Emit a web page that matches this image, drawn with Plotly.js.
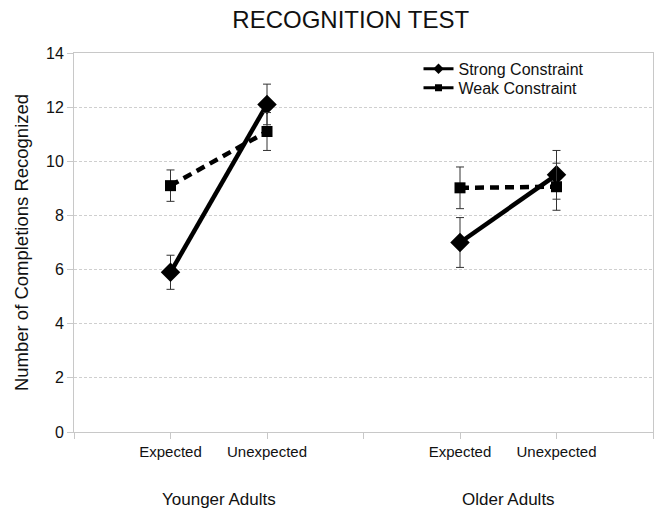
<!DOCTYPE html>
<html>
<head>
<meta charset="utf-8">
<script src="https://cdn.plot.ly/plotly-3.0.1.min.js"></script>
<style>html,body{margin:0;padding:0;background:#fff;}#chart{width:664px;height:520px;}</style>
</head>
<body>
<div id="chart"></div>
<script>
// Data
const groups = ['Younger Adults', 'Older Adults'];
const conditions = ['Expected', 'Unexpected'];
const seriesNames = ['Strong Constraint', 'Weak Constraint'];
// values in order: Younger-Expected, Younger-Unexpected, Older-Expected, Older-Unexpected
const strongValues = [5.9, 12.1, 7.0, 9.5];
const strongErrors = [0.63, 0.75, 0.92, 0.9];
const weakValues = [9.1, 11.1, 9.02, 9.06];
const weakErrors = [0.58, 0.7, 0.77, 0.87];
const yTicks = [0, 2, 4, 6, 8, 10, 12, 14];

// category slot positions: each group spans 3 slots (gap, cond1, cond2)
function positions() {
  const xs = [];
  groups.forEach((g, gi) => {
    conditions.forEach((c, ci) => xs.push(gi * 3 + ci + 1));
  });
  return xs;
}
// insert gaps between groups so lines do not connect across groups
function withGaps(arr) {
  const out = [];
  groups.forEach((g, gi) => {
    if (gi > 0) out.push(null);
    conditions.forEach((c, ci) => out.push(arr[gi * conditions.length + ci]));
  });
  return out;
}
const xPos = positions();
const tickvals = [];
const ticktext = [];
for (let i = 0; i <= groups.length * 3; i++) {
  tickvals.push(i);
  const gi = Math.floor(i / 3), r = i % 3;
  ticktext.push(r === 0 || gi >= groups.length ? '' : conditions[r - 1]);
}

const FONT = '"Liberation Sans", Arial, sans-serif';

const traces = [
  {
    name: seriesNames[0], showlegend: false,
    type: 'scatter', mode: 'lines+markers',
    x: withGaps(xPos), y: withGaps(strongValues),
    line: {color: '#000', width: 4.5, dash: 'solid'},
    marker: {symbol: 'diamond', size: 15, color: '#000'},
    error_y: {type: 'data', array: withGaps(strongErrors), visible: true, color: '#333', thickness: 1, width: 4},
    connectgaps: false
  },
  {
    name: seriesNames[1], showlegend: false,
    type: 'scatter', mode: 'lines+markers',
    x: withGaps(xPos), y: withGaps(weakValues),
    line: {color: '#000', width: 4.5, dash: '9px,6px'},
    marker: {symbol: 'square', size: 11, color: '#000'},
    error_y: {type: 'data', array: withGaps(weakErrors), visible: true, color: '#333', thickness: 1, width: 4},
    connectgaps: false
  },
  // legend entries (small symbols, as in the reference legend)
  {
    name: seriesNames[0], showlegend: true, legend: 'legend', type: 'scatter', mode: 'lines+markers',
    x: [null], y: [null],
    line: {color: '#000', width: 3}, marker: {symbol: 'diamond', size: 8, color: '#000'}
  },
  {
    name: seriesNames[1], showlegend: true, legend: 'legend2', type: 'scatter', mode: 'lines+markers',
    x: [null], y: [null],
    line: {color: '#000', width: 3}, marker: {symbol: 'square', size: 7, color: '#000'}
  }
];

const annotations = groups.map((g, gi) => ({
  text: g, xref: 'x', yref: 'paper',
  x: gi * 3 + 1.5, y: -0.179, yanchor: 'middle', xanchor: 'center',
  showarrow: false, font: {family: FONT, size: 17, color: '#111'}
}));

const legendBase = {
  x: 0.595, xanchor: 'left', yanchor: 'middle',
  bgcolor: 'rgba(0,0,0,0)', font: {family: FONT, size: 16, color: '#111'},
  itemwidth: 30
};

const layout = {
  width: 664, height: 520,
  margin: {l: 74, r: 11, t: 53, b: 88},
  paper_bgcolor: '#fff', plot_bgcolor: '#fff',
  font: {family: FONT, color: '#111'},
  title: {text: 'RECOGNITION TEST', font: {family: FONT, size: 24, color: '#111'},
          x: 0.478, xref: 'paper', xanchor: 'center', y: 0.963, yanchor: 'middle'},
  showlegend: true,
  legend: Object.assign({}, legendBase, {y: 0.958}),
  legend2: Object.assign({}, legendBase, {y: 0.908}),
  xaxis: {
    range: [0, groups.length * 3], tickmode: 'array', tickvals: tickvals, ticktext: ticktext,
    showgrid: false, zeroline: false, showline: true, mirror: true,
    linecolor: '#c8c8c8', linewidth: 1,
    ticks: 'outside', ticklen: 6, tickcolor: '#c8c8c8',
    tickfont: {family: FONT, size: 15, color: '#111'}, fixedrange: true
  },
  yaxis: {
    range: [0, 14], tickmode: 'array', tickvals: yTicks,
    showgrid: true, gridcolor: '#cfcfcf', griddash: '3px,2px', gridwidth: 1,
    zeroline: false, showline: true, mirror: true,
    linecolor: '#c8c8c8', linewidth: 1,
    ticks: 'outside', ticklen: 6, tickcolor: '#c8c8c8',
    tickfont: {family: FONT, size: 16, color: '#111'},
    title: {text: 'Number of Completions Recognized', font: {family: FONT, size: 18.5, color: '#111'}, standoff: 12},
    fixedrange: true
  },
  annotations: annotations
};

Plotly.newPlot('chart', traces, layout, {displayModeBar: false, staticPlot: true});
</script>
</body>
</html>
